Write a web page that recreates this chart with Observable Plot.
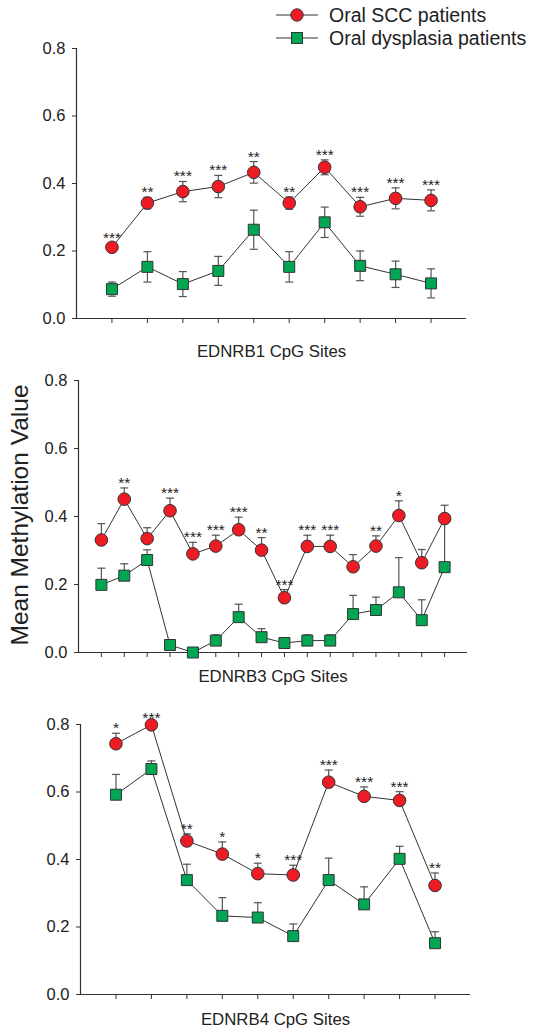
<!DOCTYPE html>
<html>
<head>
<meta charset="utf-8">
<script src="https://cdn.jsdelivr.net/npm/d3@7"></script>
<script src="https://cdn.jsdelivr.net/npm/@observablehq/plot@0.6"></script>
<style>
  body { margin: 0; background: #fff; font-family: "Liberation Sans", Arial, sans-serif; }
  #wrap { position: relative; width: 533px; height: 1032px; overflow: hidden; }
  .panel { position: absolute; left: 0; }
  .panel svg { overflow: visible; }
  #ytitle { position: absolute; left: 20px; top: 515px; transform: translate(-50%, -50%) rotate(-90deg);
            font-size: 24.5px; color: #222; white-space: nowrap; }
  .leg { position: absolute; left: 274px; height: 22px; display: flex; align-items: center; font-size: 19.5px; color: #222; white-space: nowrap; }
  .leg svg { margin-right: 9px; }
</style>
</head>
<body>
<div id="wrap"></div>
<script>
// ---------- data ----------
const seriesNames = ["Oral SCC patients", "Oral dysplasia patients"];
const yTicks = [0, 0.2, 0.4, 0.6, 0.8];

const sites1 = [1, 2, 3, 4, 5, 6, 7, 8, 9, 10];
const scc1Mean = [0.211, 0.342, 0.376, 0.391, 0.433, 0.342, 0.448, 0.331, 0.356, 0.350];
const scc1Err  = [0.012, 0.017, 0.030, 0.033, 0.032, 0.018, 0.022, 0.028, 0.031, 0.031];
const dys1Mean = [0.087, 0.153, 0.102, 0.141, 0.263, 0.153, 0.285, 0.156, 0.131, 0.104];
const dys1Err  = [0.021, 0.045, 0.037, 0.043, 0.058, 0.045, 0.045, 0.044, 0.039, 0.043];
const sig1 = ["***", "**", "***", "***", "**", "**", "***", "***", "***", "***"];

const sites3 = [1, 2, 3, 4, 5, 6, 7, 8, 9, 10, 11, 12, 13, 14, 15, 16];
const scc3Mean = [0.331, 0.451, 0.335, 0.417, 0.290, 0.313, 0.361, 0.301, 0.161, 0.312, 0.312, 0.252, 0.313, 0.403, 0.264, 0.394];
const scc3Err  = [0.048, 0.033, 0.032, 0.037, 0.034, 0.032, 0.037, 0.037, 0.024, 0.033, 0.033, 0.036, 0.030, 0.043, 0.039, 0.039];
const dys3Mean = [0.199, 0.226, 0.272, 0.022, 0.000, 0.035, 0.104, 0.045, 0.028, 0.035, 0.035, 0.113, 0.125, 0.177, 0.095, 0.251];
const dys3Err  = [0.049, 0.035, 0.030, 0.005, 0.003, 0.017, 0.038, 0.025, 0.005, 0.017, 0.017, 0.055, 0.038, 0.102, 0.060, 0.140];
const sig3 = ["", "**", "", "***", "***", "***", "***", "**", "***", "***", "***", "", "**", "*", "", ""];

const sites4 = [1, 2, 3, 4, 5, 6, 7, 8, 9, 10];
const scc4Mean = [0.743, 0.799, 0.455, 0.416, 0.358, 0.354, 0.629, 0.587, 0.575, 0.323];
const scc4Err  = [0.031, 0.004, 0.021, 0.036, 0.031, 0.029, 0.036, 0.028, 0.026, 0.037];
const dys4Mean = [0.592, 0.668, 0.339, 0.233, 0.228, 0.173, 0.339, 0.267, 0.402, 0.152];
const dys4Err  = [0.060, 0.024, 0.047, 0.054, 0.044, 0.036, 0.065, 0.052, 0.037, 0.034];
const sig4 = ["*", "***", "**", "*", "*", "***", "***", "***", "***", "**"];

const labels = ["EDNRB1 CpG Sites", "EDNRB3 CpG Sites", "EDNRB4 CpG Sites"];

// ---------- styles ----------
const RED = "#ED1C24", GREEN = "#00A651", LINE = "#333", BAR = "#555", AX = "#333", TXT = "#222";
const hline = { draw(ctx, size) { const w = Math.sqrt(size / Math.PI); ctx.moveTo(-w, 0); ctx.lineTo(w, 0); } };

function panel(o) {
  const scc = o.sites.map((s, i) => ({site: s, mean: o.sccMean[i], err: o.sccErr[i], sig: o.sig[i]}));
  const dys = o.sites.map((s, i) => ({site: s, mean: o.dysMean[i], err: o.dysErr[i]}));
  const lo = d => o.both ? d.mean - d.err : d.mean;
  const hi = d => d.mean + d.err;
  const bars = data => [
    Plot.ruleX(data, {x: "site", y1: lo, y2: hi, stroke: BAR, strokeWidth: 1.2}),
    Plot.dot(data, {x: "site", y: hi, symbol: hline, r: 4, stroke: BAR, strokeWidth: 1.2, fill: "none"}),
    ...(o.both ? [Plot.dot(data, {x: "site", y: lo, symbol: hline, r: 4, stroke: BAR, strokeWidth: 1.2, fill: "none"})] : [])
  ];
  const chart = Plot.plot({
    width: 533, height: o.height,
    marginTop: o.mt, marginBottom: o.mb, marginLeft: o.ml, marginRight: o.mr,
    x: {domain: [0, o.sites.length + 1]},
    y: {domain: [0, 0.8]},
    style: {fontFamily: "'Liberation Sans', Arial, sans-serif", fontSize: "16px", color: TXT, background: "transparent", overflow: "visible"},
    marks: [
      Plot.axisY({ticks: yTicks, tickFormat: d3.format(".1f"), tickSize: 4, tickPadding: 7, stroke: AX, fill: TXT, fontSize: 16.5, label: null}),
      Plot.axisX({ticks: o.sites, tickSize: 5, tickFormat: () => "", stroke: AX, label: null}),
      Plot.ruleX([0], {stroke: AX, strokeWidth: 1.2}),
      Plot.ruleY([0], {stroke: AX, strokeWidth: 1.2}),
      ...bars(dys), ...bars(scc),
      Plot.line(dys, {x: "site", y: "mean", stroke: LINE, strokeWidth: 1}),
      Plot.line(scc, {x: "site", y: "mean", stroke: LINE, strokeWidth: 1}),
      Plot.dot(dys, {x: "site", y: "mean", symbol: "square", r: 6.2, fill: GREEN, stroke: LINE, strokeWidth: 1}),
      Plot.dot(scc, {x: "site", y: "mean", symbol: "circle", r: 6.3, fill: RED, stroke: LINE, strokeWidth: 1}),
      Plot.text(scc.filter(d => d.sig), {x: "site", y: hi, text: "sig", dy: -5, lineAnchor: "middle", fontSize: 15.5, fill: TXT}),
      Plot.text([o.label], {frameAnchor: "bottom", lineAnchor: "middle", dy: o.labelDy, fontSize: 16.8, fill: TXT})
    ]
  });
  const div = document.createElement("div");
  div.className = "panel";
  div.style.top = o.top + "px";
  div.appendChild(chart);
  return div;
}

const wrap = document.getElementById("wrap");
wrap.appendChild(panel({sites: sites1, sccMean: scc1Mean, sccErr: scc1Err, dysMean: dys1Mean, dysErr: dys1Err, sig: sig1,
  label: labels[0], both: true, top: 0, height: 370, mt: 48, mb: 52, ml: 76, mr: 67, labelDy: 33}));
wrap.appendChild(panel({sites: sites3, sccMean: scc3Mean, sccErr: scc3Err, dysMean: dys3Mean, dysErr: dys3Err, sig: sig3,
  label: labels[1], both: false, top: 370, height: 330, mt: 10, mb: 48, ml: 78, mr: 66, labelDy: 24}));
wrap.appendChild(panel({sites: sites4, sccMean: scc4Mean, sccErr: scc4Err, dysMean: dys4Mean, dysErr: dys4Err, sig: sig4,
  label: labels[2], both: false, top: 700, height: 332, mt: 24, mb: 38, ml: 80, mr: 63, labelDy: 25}));

// y title
const yt = document.createElement("div");
yt.id = "ytitle";
yt.textContent = "Mean Methylation Value";
wrap.appendChild(yt);

// legend
const legendItems = [
  {name: seriesNames[0], fill: RED, shape: "circle", top: 4},
  {name: seriesNames[1], fill: GREEN, shape: "square", top: 27}
];
for (const it of legendItems) {
  const row = document.createElement("div");
  row.className = "leg";
  row.style.top = it.top + "px";
  const svg = d3.create("svg").attr("width", 46).attr("height", 22);
  svg.append("line").attr("x1", 2).attr("x2", 44).attr("y1", 11).attr("y2", 11).attr("stroke", LINE).attr("stroke-width", 1.2);
  if (it.shape === "circle") svg.append("circle").attr("cx", 23).attr("cy", 11).attr("r", 6.2).attr("fill", it.fill).attr("stroke", LINE);
  else svg.append("rect").attr("x", 17.5).attr("y", 5.5).attr("width", 11).attr("height", 11).attr("fill", it.fill).attr("stroke", LINE);
  row.appendChild(svg.node());
  const span = document.createElement("span");
  span.textContent = it.name;
  row.appendChild(span);
  wrap.appendChild(row);
}
</script>
</body>
</html>
